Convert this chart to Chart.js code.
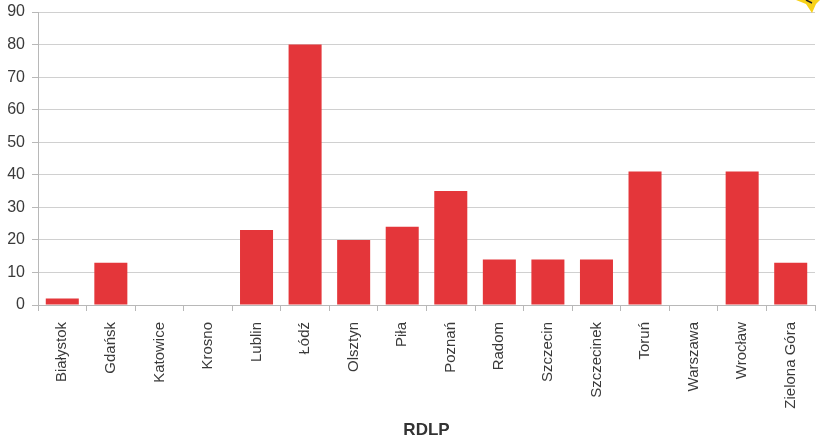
<!DOCTYPE html>
<html>
<head>
<meta charset="utf-8">
<script src="https://cdn.jsdelivr.net/npm/chart.js@4"></script>
<style>
  html, body { margin: 0; padding: 0; background: #fff; }
  #wrap { width: 820px; height: 437px; }
</style>
</head>
<body>
<div id="wrap"><canvas id="rdlpChart" width="820" height="437"></canvas></div>
<script>
const categories = ['Białystok', 'Gdańsk', 'Katowice', 'Krosno', 'Lublin', 'Łódź', 'Olsztyn', 'Piła',
    'Poznań', 'Radom', 'Szczecin', 'Szczecinek', 'Toruń', 'Warszawa', 'Wrocław', 'Zielona Góra'];
const values = [2, 13, 0, 0, 23, 80, 20, 24, 35, 14, 14, 14, 41, 0, 41, 13];
const yTicks = [0, 10, 20, 30, 40, 50, 60, 70, 80, 90];
const axisTitle = 'RDLP';

// small yellow decoration cut off in the top right corner
const cornerStar = {
    id: 'cornerStar',
    afterDraw(chart) {
        const c = chart.ctx;
        c.save();
        c.fillStyle = '#f7d117';
        c.beginPath();
        c.moveTo(796, 0);
        c.lineTo(806, 4);
        c.lineTo(812, 13);
        c.lineTo(816, 4);
        c.lineTo(820, 0);
        c.closePath();
        c.fill();
        c.strokeStyle = '#222';
        c.lineWidth = 1.5;
        c.beginPath();
        c.moveTo(806, 0);
        c.lineTo(812, 3);
        c.stroke();
        c.restore();
    }
};

const ctx = document.getElementById('rdlpChart').getContext('2d');
const myChart = new Chart(ctx, {
    type: 'bar',
    data: {
        labels: categories,
        datasets: [{
            label: axisTitle,
            data: values,
            backgroundColor: '#e4363a',
            borderWidth: 0,
            barPercentage: 0.68,
            categoryPercentage: 1
        }]
    },
    options: {
        responsive: false,
        animation: false,
        layout: { padding: { top: 12, right: 5, bottom: 0, left: 0 } },
        plugins: {
            legend: { display: false },
            tooltip: { enabled: false }
        },
        scales: {
            x: {
                offset: true,
                grid: {
                    offset: true,
                    drawOnChartArea: false,
                    drawTicks: true,
                    tickLength: 6,
                    color: '#b8b8b8'
                },
                border: { color: '#b8b8b8', width: 1 },
                ticks: {
                    maxRotation: 90,
                    minRotation: 90,
                    autoSkip: false,
                    padding: 11,
                    color: '#3a3a3a',
                    font: { family: 'Liberation Sans, Arial, sans-serif', size: 15 }
                },
                title: {
                    display: true,
                    text: axisTitle,
                    color: '#333',
                    padding: { top: 0, bottom: -2 },
                    font: { family: 'Liberation Sans, Arial, sans-serif', size: 17, weight: 'bold', lineHeight: 1 }
                },
                afterFit(scale) { scale.height = 132; }
            },
            y: {
                min: 0,
                max: 90,
                afterBuildTicks(scale) { scale.ticks = yTicks.map(v => ({ value: v })); },
                grid: {
                    color: '#d0d0d0',
                    tickLength: 6,
                    tickColor: '#b8b8b8'
                },
                border: { color: '#b8b8b8', width: 1 },
                ticks: {
                    padding: 7,
                    color: '#3a3a3a',
                    font: { family: 'Liberation Sans, Arial, sans-serif', size: 16 }
                },
                afterFit(scale) {
                    scale.width = 38;
                    scale.paddingTop = 0;
                    scale.paddingBottom = 0;
                }
            }
        }
    },
    plugins: [cornerStar]
});
</script>
</body>
</html>
